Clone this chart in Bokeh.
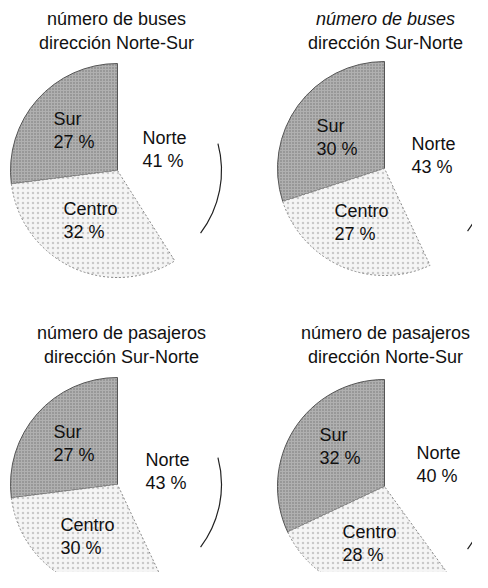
import numpy as np
from bokeh.plotting import figure
from bokeh.models import Range1d
from bokeh.core.properties import value
from bokeh.embed import file_html
from bokeh.resources import INLINE

# ---- data ----
regions = ["Sur", "Centro", "Norte"]
titles_line1 = ["número de buses", "número de buses", "número de pasajeros", "número de pasajeros"]
titles_line2 = ["dirección Norte-Sur", "dirección Sur-Norte", "dirección Sur-Norte", "dirección Norte-Sur"]
sur_pct = [27, 30, 27, 32]
centro_pct = [32, 27, 30, 28]
norte_pct = [41, 43, 43, 40]

# ---- layout (pixel positions in the picture) ----
centers = [(117, 170), (384, 168), (117, 484), (384, 486)]
radius = 107
title_x = [116, 385, 121, 385]
title_y = [(18, 42), (18, 42), (332, 356), (332, 356)]
title_italic = [False, True, False, False]
lab_pos = [
    {"Sur": (53, 118), "Centro": (63, 208), "Norte": (142, 137)},
    {"Sur": (316, 125), "Centro": (334, 210), "Norte": (411, 143)},
    {"Sur": (53, 431), "Centro": (60, 524), "Norte": (145, 459)},
    {"Sur": (319, 434), "Centro": (342, 531), "Norte": (416, 452)},
]
line_gap = 23

W, H = 472, 572
p = figure(width=W, height=H, output_backend="svg", toolbar_location=None,
           x_range=Range1d(0, W), y_range=Range1d(-H, 0),
           x_axis_type=None, y_axis_type=None, min_border=0)
p.grid.visible = False
p.outline_line_color = None
p.background_fill_color = "white"
p.border_fill_color = "white"

FONT = value("Liberation Sans")

for i in range(4):
    cx, cy = centers[i]
    vals = [sur_pct[i], centro_pct[i], norte_pct[i]]
    tot = float(sum(vals))
    fr = np.cumsum([0] + vals) / tot
    starts = np.pi / 2 + 2 * np.pi * fr[:-1]
    ends = np.pi / 2 + 2 * np.pi * fr[1:]
    # Sur wedge (dark stipple)
    p.wedge(x=[cx], y=[-cy], radius=radius, start_angle=[starts[0]], end_angle=[ends[0]],
            fill_color="#b0b0b0", line_color="#555555", line_width=1,
            hatch_pattern="dot", hatch_color="#666666", hatch_scale=3, hatch_alpha=0.8)
    # Centro wedge (light mottled)
    p.wedge(x=[cx], y=[-cy], radius=radius, start_angle=[starts[1]], end_angle=[ends[1]],
            fill_color="#f5f5f5", line_color="#8a8a8a", line_width=1, line_dash="2 2",
            hatch_pattern="dot", hatch_color="#aaaaaa", hatch_scale=5, hatch_alpha=0.6)
    # Norte: white, only a partial outer arc visible
    p.arc(x=[cx], y=[-cy], radius=radius - 3, start_angle=np.deg2rad(-37), end_angle=np.deg2rad(15),
          line_color="#222222", line_width=1.2)
    # titles
    style = "italic" if title_italic[i] else "normal"
    p.text(x=[title_x[i]], y=[-title_y[i][0]], text=[titles_line1[i]], text_font=FONT,
           text_font_size="18px", text_font_style=style, text_align="center",
           text_baseline="middle", text_color="#111111")
    p.text(x=[title_x[i]], y=[-title_y[i][1]], text=[titles_line2[i]], text_font=FONT,
           text_font_size="18px", text_align="center", text_baseline="middle",
           text_color="#111111")
    # slice labels
    for name, v in zip(regions, vals):
        lx, ly = lab_pos[i][name]
        p.text(x=[lx, lx], y=[-ly, -(ly + line_gap)], text=[name, f"{v} %"], text_font=FONT,
               text_font_size="18px", text_align="left", text_baseline="middle",
               text_color="#111111")

open("out.html", "w").write(file_html(p, INLINE))
